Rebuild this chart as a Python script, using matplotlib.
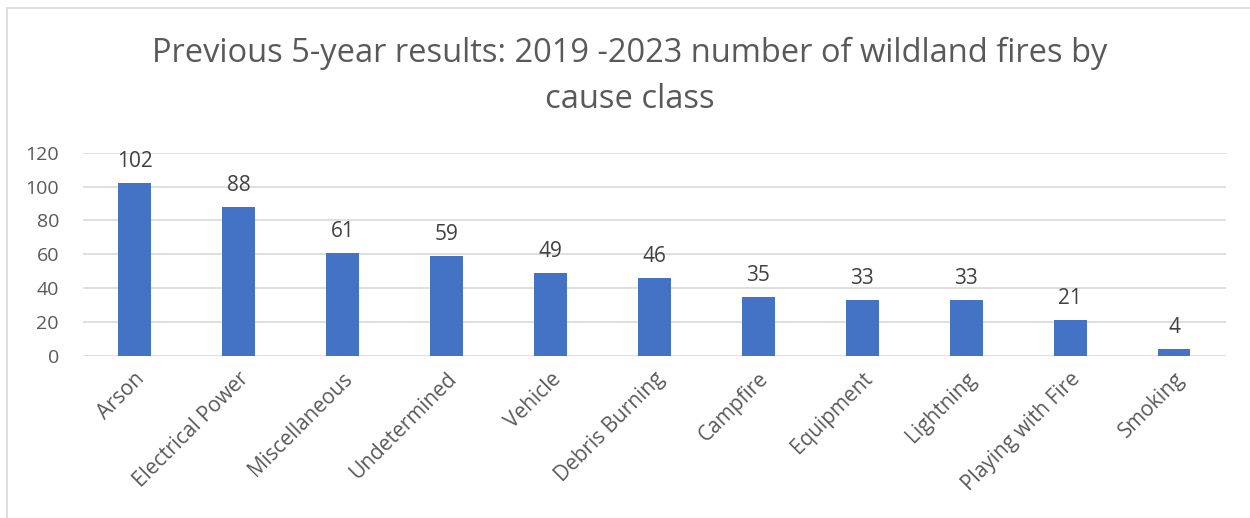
import matplotlib
matplotlib.use("Agg")
import matplotlib.pyplot as plt
from matplotlib.patches import Rectangle

categories = ["Arson", "Electrical Power", "Miscellaneous", "Undetermined", "Vehicle",
              "Debris Burning", "Campfire", "Equipment", "Lightning",
              "Playing with Fire", "Smoking"]
values = [102, 88, 61, 59, 49, 46, 35, 33, 33, 21, 4]
yticks = [0, 20, 40, 60, 80, 100, 120]
title = "Previous 5-year results: 2019 -2023 number of wildland fires by\ncause class"

plt.rcParams['font.family'] = ['Open Sans', 'DejaVu Sans']

W, H = 1250, 518
fig = plt.figure(figsize=(W / 100, H / 100), dpi=100)
fig.patch.set_facecolor("white")

# chart frame (extends beyond right/bottom edges)
fig.patches.append(Rectangle((7 / W, -0.1), 1.2, (H - 8) / H + 0.1,
                             transform=fig.transFigure, fill=False,
                             edgecolor="#D9D9D9", linewidth=1.2))

left, right = 82.5 / W, 1226 / W
bottom, top = (H - 356) / H, (H - 152.7) / H
ax = fig.add_axes([left, bottom, right - left, top - bottom])

x = range(len(categories))
bars = ax.bar(x, values, width=0.317, color="#4472C4", zorder=3)
ax.set_xlim(-0.5, len(categories) - 0.5)
ax.set_ylim(0, 120)
ax.set_yticks(yticks)
ax.set_yticklabels([str(t) for t in yticks], fontsize=14, color="#595959")
ax.yaxis.grid(True, color="#D9D9D9", linewidth=1.2, zorder=0)
ax.set_axisbelow(True)
for s in ax.spines.values():
    s.set_visible(False)
ax.tick_params(axis="both", length=0)
ax.tick_params(axis="y", pad=17)

ax.set_xticks(list(x))
ax.set_xticklabels(categories, rotation=45, ha="right", rotation_mode="anchor",
                   fontsize=15, color="#595959")
ax.tick_params(axis="x", pad=9)

for xi, v in zip(x, values):
    ax.annotate(str(v), (xi, v), xytext=(0, 8), textcoords="offset points",
                ha="center", va="bottom", fontsize=15, color="#404040")

fig.text(0.5035, (H - 108) / H, title, ha="center", va="baseline",
         fontsize=23.5, color="#595959", linespacing=1.5)

fig.savefig("out.png", dpi=100)
